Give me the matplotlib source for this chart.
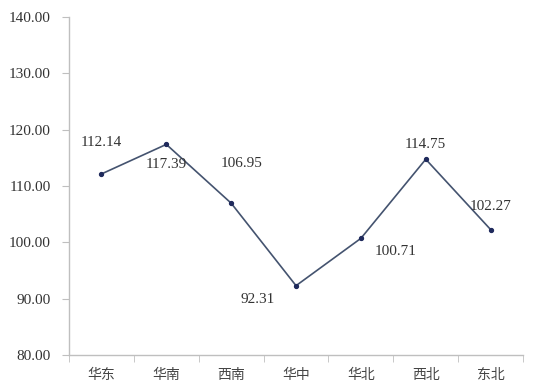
import matplotlib
matplotlib.use("Agg")
import matplotlib.pyplot as plt
import numpy as np

categories = ["华东", "华南", "西南", "华中", "华北", "西北", "东北"]
values = [112.14, 117.39, 106.95, 92.31, 100.71, 114.75, 102.27]
yticks = [80, 90, 100, 110, 120, 130, 140]
# label offsets in pixels (dx, dy)
offsets = [(0, 31), (0, -20), (10, 40), (-38, -14), (35, -13), (0, 15), (0, 23)]

fig = plt.figure(figsize=(5.5, 3.91), dpi=100)
ax = fig.add_axes([0.1255, 0.092, 0.8255, 0.8645])
x = np.arange(len(categories))
ax.plot(x, values, color="#44536f", linewidth=1.2, marker="o", markersize=2.8,
        markerfacecolor="#1f2a5c", markeredgecolor="#1f2a5c")
numfont = {"family": ["Liberation Serif", "DejaVu Serif"], "size": 11, "color": "#333333"}
for xi, v, (dx, dy) in zip(x, values, offsets):
    ax.annotate(f"{v:.2f}", (xi, v), xytext=(dx * 0.72, dy * 0.72), textcoords="offset points",
                ha="center", va="center", **numfont)
ax.set_xlim(-0.5, len(categories) - 0.5)
ax.set_ylim(80, 140)
ax.set_yticks(yticks)
ax.set_yticklabels([f"{t:.2f}" for t in yticks], **numfont)
ax.set_xticks(x)
ax.set_xticklabels(categories, family=["Noto Sans CJK SC", "DejaVu Sans"], fontsize=10, color="#444444")
ax.set_xticks(np.arange(-0.5, len(categories)), minor=True)
ax.tick_params(axis="x", which="major", length=0, pad=9)
ax.tick_params(axis="x", which="minor", length=5, color="#bfbfbf", direction="out")
ax.tick_params(axis="y", length=5, color="#bfbfbf", direction="out", pad=8)
for s in ["top", "right"]:
    ax.spines[s].set_visible(False)
for s in ["left", "bottom"]:
    ax.spines[s].set_color("#bfbfbf")
    ax.spines[s].set_linewidth(1)
fig.savefig("out.png", dpi=100)
